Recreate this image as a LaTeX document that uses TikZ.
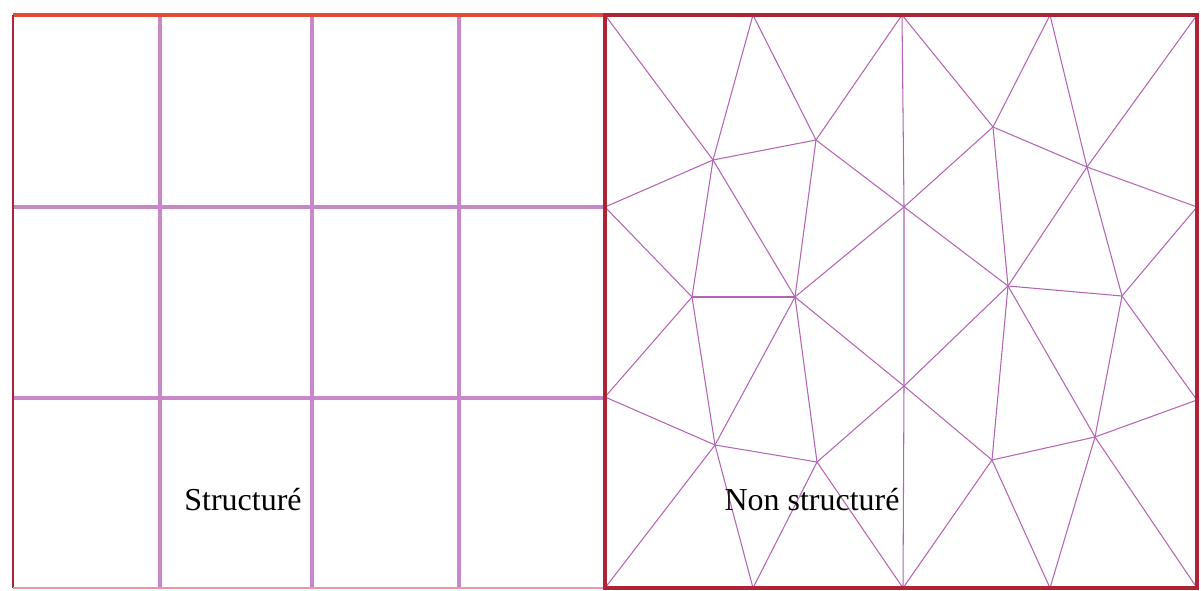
\documentclass[tikz,border=0pt]{standalone}
\usepackage{fontspec}
\setmainfont{Liberation Serif}
\definecolor{gridpink}{RGB}{200,135,200}
\definecolor{meshpink}{RGB}{180,100,180}
\definecolor{framered}{RGB}{175,35,55}
\definecolor{topred}{RGB}{228,75,60}
\definecolor{lowpink}{RGB}{235,150,160}

\begin{document}
\begin{tikzpicture}[
        x=0.02cm,
        y=-0.02cm,
        gridline/.style={draw=gridpink, line width=2pt},
        meshline/.style={draw=meshpink, line width=0.6pt},
        meshlabel/.style={font=\fontsize{18.2}{20}\selectfont, anchor=base, inner sep=0pt}
    ]
        \useasboundingbox (0,0) rectangle (1201,591);

        % structured grid
        \foreach \x in {160,312,459} {
            \draw[gridline] (\x,15) -- (\x,588);
        }
        \foreach \y in {207,398} {
            \draw[gridline] (13,\y) -- (605,\y);
        }
        \draw[topred, line width=1.8pt] (13,15) -- (605,15);
        \draw[framered, line width=1pt] (13,15) -- (13,588);
        \draw[lowpink, line width=1pt] (13,588) -- (605,588);
        \node[meshlabel] (lstruct) at (243,510) {Structuré};

        % unstructured mesh
        \coordinate (tl) at (605,15);
        \coordinate (t1) at (753,15);
        \coordinate (t2) at (902,15);
        \coordinate (t3) at (1050,15);
        \coordinate (tr) at (1197,15);
        \coordinate (l1) at (605,207);
        \coordinate (l2) at (605,397);
        \coordinate (r1) at (1197,207);
        \coordinate (r2) at (1197,400);
        \coordinate (bl) at (605,588);
        \coordinate (b1) at (753,588);
        \coordinate (b2) at (903,588);
        \coordinate (b3) at (1050,588);
        \coordinate (br) at (1197,588);
        \coordinate (a) at (713,160);
        \coordinate (b) at (816,140);
        \coordinate (c) at (993,127);
        \coordinate (d) at (1087,167);
        \coordinate (e) at (904,207);
        \coordinate (f) at (692,297);
        \coordinate (g) at (795,297);
        \coordinate (h) at (1008,286);
        \coordinate (i) at (1122,296);
        \coordinate (j) at (904,386);
        \coordinate (k) at (715,445);
        \coordinate (l) at (817,462);
        \coordinate (m) at (992,460);
        \coordinate (n) at (1095,437);

        \foreach \p/\q in {tl/a, t1/a, t1/b, t2/b, l1/a, a/b, a/f, a/g, b/g, b/e, l1/f, f/g, g/e,
                           t2/c, t3/c, t3/d, tr/d, c/d, c/e, c/h, d/r1, d/h, d/i, e/h, h/i, r1/i,
                           f/l2, f/k, g/k, g/l, g/j, l2/k, k/l, l/j, bl/k, b1/k, b1/l, l/b2,
                           j/h, j/m, h/m, h/n, i/n, i/r2, m/n, n/r2, m/b2, m/b3, n/b3, n/br} {
            \draw[meshline] (\p) -- (\q);
        }
        \draw[meshline] (t2) -- (e) -- (j) -- (b2);

        \draw[framered, line width=1.8pt] (tl) rectangle (br);
        \node[meshlabel] (lunstruct) at (812,510) {Non structuré};
    \end{tikzpicture}
\end{document}
